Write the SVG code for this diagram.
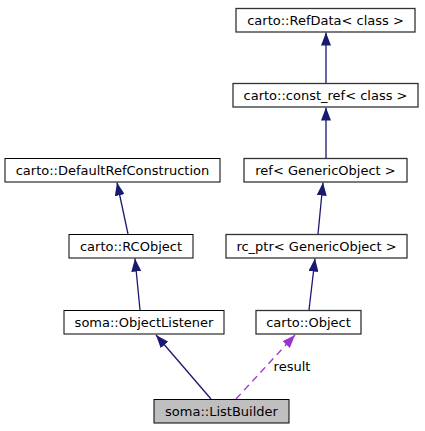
<svg xmlns="http://www.w3.org/2000/svg" width="425" height="431" viewBox="0 0 425 431">
<style>
.node rect{fill:#ffffff;stroke:#000000;stroke-width:1}
.node.ext rect{stroke:#333333;stroke-width:1.3}
.node.cur rect{fill:#bfbfbf}
text{font-family:"DejaVu Sans","Noto Sans",sans-serif;font-size:13px;fill:#000000;text-anchor:middle}
.edge{fill:none;stroke:#191970;stroke-width:1.3}
.edge.dash{stroke:#9a32cd;stroke-dasharray:7,5}
</style>
<defs>
<marker id="ab" viewBox="0 0 13 10" refX="13" refY="5" markerUnits="userSpaceOnUse" markerWidth="13" markerHeight="10" orient="auto">
<path d="M0,0 L13,5 L0,10 Z" fill="#191970"/>
</marker>
<marker id="ap" viewBox="0 0 13 10" refX="13" refY="5" markerUnits="userSpaceOnUse" markerWidth="13" markerHeight="10" orient="auto">
<path d="M0,0 L13,5 L0,10 Z" fill="#9a32cd"/>
</marker>
</defs>
<g id="connectors">
<path class="edge" d="M326,83 L326,32.5" marker-end="url(#ab)"/>
<path class="edge" d="M326,158 L326,107.5" marker-end="url(#ab)"/>
<path class="edge" d="M318,234 L323,182.5" marker-end="url(#ab)"/>
<path class="edge" d="M128,234 L117,182.5" marker-end="url(#ab)"/>
<path class="edge" d="M140,310 L135,258.5" marker-end="url(#ab)"/>
<path class="edge" d="M309,310 L315,258.5" marker-end="url(#ab)"/>
<path class="edge" d="M211,399 L156,335" marker-end="url(#ab)"/>
<path class="edge dash" d="M236,399 L295,335" marker-end="url(#ap)"/>
<text x="292" y="371">result</text>
</g>
<g id="node-refdata" class="node ext"><rect x="236" y="8.5" width="179" height="23.5"/><text x="325.5" y="25">carto::RefData&lt; class &gt;</text></g>
<g id="node-constref" class="node ext"><rect x="233" y="83.5" width="185" height="23.5"/><text x="325.5" y="100">carto::const_ref&lt; class &gt;</text></g>
<g id="node-defaultref" class="node"><rect x="5" y="158.5" width="215" height="23.5"/><text x="112.5" y="175">carto::DefaultRefConstruction</text></g>
<g id="node-ref" class="node ext"><rect x="244" y="158.5" width="163" height="23.5"/><text x="325.5" y="175">ref&lt; GenericObject &gt;</text></g>
<g id="node-rcobject" class="node"><rect x="69" y="234.5" width="124" height="23.5"/><text x="131" y="251">carto::RCObject</text></g>
<g id="node-rcptr" class="node ext"><rect x="226" y="234.5" width="181" height="23.5"/><text x="316.5" y="251">rc_ptr&lt; GenericObject &gt;</text></g>
<g id="node-objectlistener" class="node"><rect x="64" y="310.5" width="160" height="23.5"/><text x="144" y="327">soma::ObjectListener</text></g>
<g id="node-object" class="node ext"><rect x="256" y="310.5" width="105" height="23.5"/><text x="308.5" y="327">carto::Object</text></g>
<g id="node-listbuilder" class="node cur"><rect x="154" y="399.5" width="135" height="23.5"/><text x="221.5" y="416">soma::ListBuilder</text></g>
</svg>
